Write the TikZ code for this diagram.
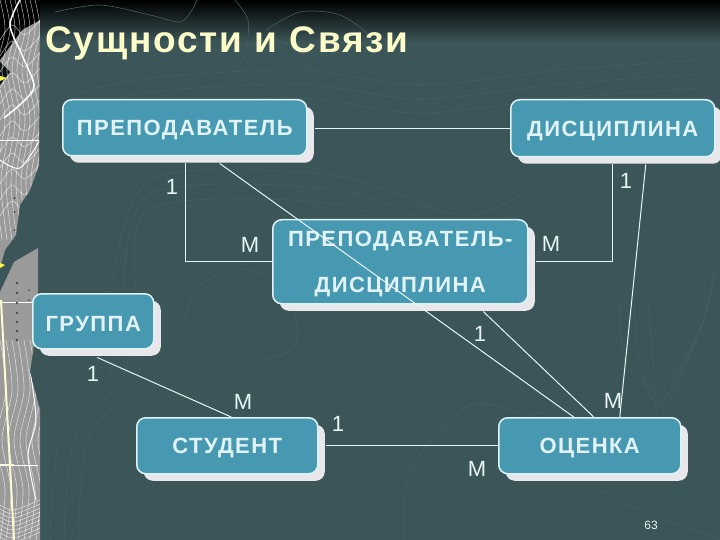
\documentclass[tikz,border=0pt]{standalone}
\usepackage{fontspec}
\setmainfont{Liberation Sans}
\newfontfamily\boxfont[LetterSpace=6.6]{Liberation Sans}
\newfontfamily\titlefont[LetterSpace=5]{Liberation Sans}
\usetikzlibrary{shadows,calc}
\definecolor{bgc}{HTML}{3C5558}
\definecolor{teal1}{HTML}{4699B0}
\definecolor{edgec}{HTML}{DDF3F8}
\definecolor{shadowc}{HTML}{E8E8EC}
\definecolor{titlec}{HTML}{FCFCC8}
\definecolor{textc}{HTML}{E2F3F7}
\definecolor{linec}{HTML}{E6F5F7}
\definecolor{faint}{HTML}{455E61}
\definecolor{mapg}{HTML}{9A9A9A}
\tikzset{
  entity/.style={draw=edgec,line width=1.5pt,fill=teal1,rounded corners=9pt,inner sep=0pt,anchor=north west,
    text=textc,font=\fontsize{22}{46}\boxfont\bfseries,align=center,text height=20pt,
    general shadow={fill=shadowc,shadow xshift=7pt,shadow yshift=-7pt}},
  link/.style={draw=linec,line width=1pt},
  card/.style={text=linec,font=\fontsize{22}{24}\selectfont,inner sep=0pt},
  contour/.style={draw=faint,line width=.6pt},
  mapline/.style={draw=white,line width=.6pt,opacity=.6},
}
\begin{document}
\begin{tikzpicture}[x=1pt,y=-1pt]
\useasboundingbox (0,0) rectangle (720,540);
\fill[bgc] (0,0) rectangle (720,540);
\shade[top color=black,bottom color=bgc] (0,0) rectangle (720,42);
% faint contours
\foreach \d in {0,14,28}{
  \draw[contour] plot[smooth] coordinates {(70+\d,95+\d) (150,78+\d) (300,70+\d) (420,85+\d) (560,70+\d) (700,60+\d)};
  \draw[contour] plot[smooth] coordinates {(110+\d,300) (150,180+\d) (330,175+\d) (460,215+\d) (520,195+\d)};
  \draw[contour] plot[smooth] coordinates {(50+\d,540) (60+\d,440) (110+\d,375) (120+\d,300)};
  \draw[contour] plot[smooth] coordinates {(620+\d,300) (625+\d,360) (660,390+\d) (700,330) (715,270)};
}
\draw[contour] plot[smooth] coordinates {(405,540) (410,470) (470,405) (530,415) (570,400)};
\draw[contour] plot[smooth] coordinates {(180,330) (200,285) (250,270) (290,300) (295,345) (260,360) (220,345)};
\draw[contour] plot[smooth] coordinates {(55,12) (100,5) (150,15) (180,22) (192,10) (197,0)};
\draw[contour] plot[smooth] coordinates {(235,0) (248,20) (246,50) (235,75)};
\draw[contour] plot[smooth] coordinates {(266,30) (300,12) (340,15) (370,40) (320,55) (275,38)};
\draw[contour] plot[smooth] coordinates {(600,490) (640,510) (720,540)};
% map strip
\fill[mapg] (0,0) -- (40,0) -- (39,165) -- (30,190) -- (20,205) -- (16,235) -- (5,250) -- (0,268) -- cycle;
\fill[mapg] (0,292) -- (14,262) -- (38,248) -- (38,290) -- (34,345) -- (30,372) -- (40,410) -- (40,540) -- (0,540) -- cycle;
\fill[black] (0,0) -- (40,0) -- (40,20) -- (22,30) -- (0,60) -- cycle;
\fill[black!75!bgc] (0,62) -- (10,72) -- (0,85) -- cycle;
\begin{scope}
\clip (0,0) -- (40,0) -- (39,165) -- (30,190) -- (20,205) -- (16,235) -- (5,250) -- (0,268) -- cycle;
\foreach \d in {0,4,...,44}{
  \draw[mapline] plot[smooth] coordinates {(0,40+4*\d) (12,25+4*\d) (25,35+4*\d) (40,20+4*\d)};
}
\foreach \d in {0,5,...,40}{
  \draw[mapline] plot[smooth] coordinates {(\d,0) (\d+5,30) (\d-3,70) (\d+5,120) (\d-4,180) (\d+2,240)};
}
\draw[white,line width=1.5pt] plot[smooth] coordinates {(20,0) (10,25) (22,55) (34,85) (25,100) (4,118)};
\draw[white,line width=1pt] plot[smooth] coordinates {(0,160) (20,168) (40,140)};
\draw[white,line width=.7pt] (0,140) -- (40,140);
\end{scope}
\begin{scope}
\clip (0,292) -- (14,262) -- (38,248) -- (38,290) -- (34,345) -- (30,372) -- (40,410) -- (40,540) -- (0,540) -- cycle;
\foreach \d in {0,6,...,42}{
  \draw[mapline] plot[smooth] coordinates {(\d,340) (\d+6,390) (\d-4,440) (\d+5,490) (\d,540)};
}
\foreach \d in {0,4,...,32}{
  \draw[mapline] plot[smooth] coordinates {(0,505+\d) (14,510+\d) (40,500+\d)};
}
\draw[white,line width=1pt] plot[smooth] coordinates {(30,370) (36,420) (28,455) (36,500)};
\draw[white,line width=.7pt] (0,302) -- (38,302);
\draw[white,line width=.7pt] (0,465) -- (38,465);
\foreach \yy in {283,293,303,313,322,331,340}{\fill[black!70] (17,\yy) circle (1.3pt);}
\foreach \yy in {290,300}{\fill[black!70] (29,\yy) circle (1pt);}
\end{scope}
\foreach \yy in {198,212,230}{\fill[black!70] (14.5,\yy) circle (1.2pt);}
\draw[titlec!85!white,line width=2pt] (1,300) -- (14,540);
\draw[titlec!85!white,line width=1pt] (0,464) -- (14,464);
\fill[yellow!70!white] (0,76) -- (7,78) -- (0,81) -- cycle;
\fill[yellow!70!white] (0,263) -- (5,265) -- (0,268) -- cycle;
% title
\node[anchor=base west,text=titlec,inner sep=0pt,font=\fontsize{37}{40}\titlefont\bfseries] (title) at (45,53) {Сущности и Связи};
% entities
\node[entity,minimum width=244pt,minimum height=56pt] (prep) at (62,99) {ПРЕПОДАВАТЕЛЬ};
\node[entity,minimum width=204pt,minimum height=57pt] (disc) at (510,99) {ДИСЦИПЛИНА};
\node[entity,text height=,minimum width=255pt,minimum height=84pt] (pd) at (272,219) {\rule{0pt}{20pt}ПРЕПОДАВАТЕЛЬ-\\ДИСЦИПЛИНА};
\node[entity,minimum width=121pt,minimum height=55pt] (grp) at (32,293) {ГРУППА};
\node[entity,minimum width=181pt,minimum height=56pt] (stud) at (136,417) {СТУДЕНТ};
\node[entity,minimum width=182pt,minimum height=56pt] (oc) at (498,417) {ОЦЕНКА};
% connectors
\draw[link] ([xshift=7pt,yshift=-1pt]prep.east) -- ([yshift=-1pt]prep.east -| disc.west);
\draw[link] ([xshift=1pt,yshift=-7pt]prep.south) -- ++(0,98) -| (pd.west);
\coordinate (dtop) at ([yshift=-7pt]disc.south);
\draw[link] ([xshift=7pt]pd.east) -- ++(77,0) coordinate (pr) -- (pr |- dtop);
\draw[link] ([xshift=35pt,yshift=-7pt]prep.south) -- ([xshift=-16pt]oc.north);
\draw[link] ([xshift=83pt,yshift=-7pt]pd.south) -- ([xshift=4pt]oc.north);
\draw[link] ([xshift=33pt,yshift=-7pt]disc.south) -- ([xshift=30pt]oc.north);
\draw[link] ([yshift=-8pt,xshift=4pt]grp.south) -- ([xshift=4pt]stud.north);
\draw[link] ([xshift=7pt]stud.east) -- (oc.west);
% cardinalities
\node[card] (c1) at (172,187) {1};
\node[card] (c2) at (626,181) {1};
\node[card] (c3) at (250,245) {М};
\node[card] (c4) at (551,244) {М};
\node[card] (c5) at (480,334) {1};
\node[card] (c6) at (93,374) {1};
\node[card] (c7) at (243,402) {М};
\node[card] (c8) at (338,424) {1};
\node[card] (c9) at (613,401) {М};
\node[card] (c10) at (477,469) {М};
\node[text=linec,inner sep=0pt,font=\fontsize{12}{14}\selectfont] (pg) at (651,525) {63};
\end{tikzpicture}
\end{document}
